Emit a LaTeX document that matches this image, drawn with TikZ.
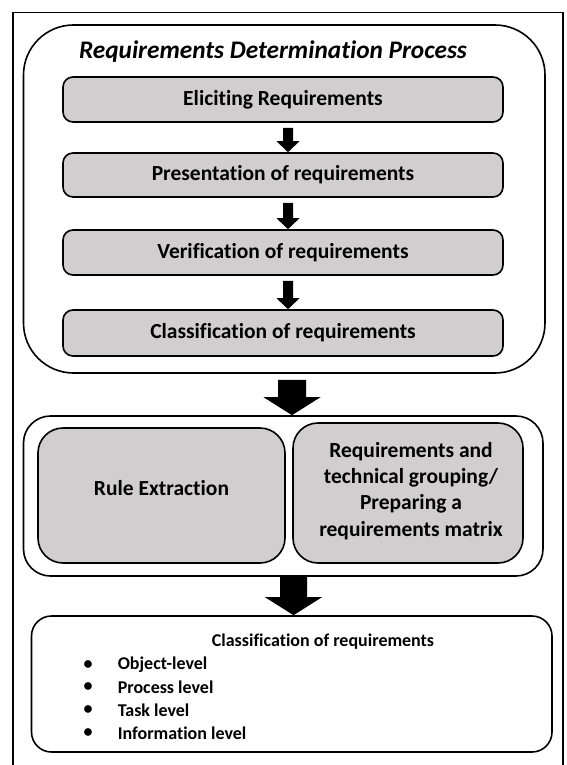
\documentclass[tikz,border=0pt]{standalone}
\usepackage{fontspec}
\setmainfont{Carlito}[Ligatures=NoCommon]
\usetikzlibrary{calc}
\definecolor{boxgray}{RGB}{208,206,206}
\newcommand\blockarrow[5]{%
  \fill ($(#1)+(-#3,0)$) -- ($(#1)+(#3,0)$) -- ($(#2)+(#3,-#5)$) -- ($(#2)+(#4,-#5)$)
    -- (#2) -- ($(#2)+(-#4,-#5)$) -- ($(#2)+(-#3,-#5)$) -- cycle;}
\begin{document}
\begin{tikzpicture}[x=1pt,y=-1pt,line width=1.6pt,
  boxfont/.style={font=\fontsize{21.5}{26}\selectfont\bfseries},
  graybox/.style={draw,fill=boxgray,rounded corners=10pt,inner sep=0pt,boxfont,align=center},
  plaintext/.style={inner sep=0pt,boxfont,align=center},
  bigbox/.style={draw,inner sep=0pt},
  titletext/.style={font=\fontsize{25.3}{30}\selectfont\bfseries\itshape},
  listtext/.style={font=\fontsize{18}{22}\selectfont\bfseries,inner sep=0pt}]
\useasboundingbox (0,0) rectangle (566,765);
% outer frame (bottom edge outside the picture)
\draw[line width=1.6pt] (12.7,770) -- (12.7,12.7) -- (563,12.7) -- (563,770);
% top process box
\node[bigbox,rounded corners=50pt,minimum width=521.5pt,minimum height=348pt] (proc) at (284.25,199) {};
\node[titletext] (title) at (273,52) {Requirements Determination Process};
\node[graybox,minimum width=440pt,minimum height=45pt] (e1) at (283,99.5) {Eliciting Requirements};
\node[graybox,minimum width=440pt,minimum height=44pt] (e2) at (283,175) {Presentation of requirements};
\node[graybox,minimum width=440pt,minimum height=45pt] (e3) at (283,252.5) {Verification of requirements};
\node[graybox,minimum width=440pt,minimum height=46pt] (e4) at (283,333) {Classification of requirements};
% middle box
\node[bigbox,rounded corners=27pt,minimum width=519.5pt,minimum height=160pt] (mid) at (283.25,496) {};
\node[graybox,rounded corners=25pt,minimum width=247pt,minimum height=135pt] (rule) at (161.5,495.5) {};
\node[plaintext] (rulet) at (161.5,488) {Rule Extraction};
\node[graybox,rounded corners=25pt,minimum width=230pt,minimum height=140pt] (grp) at (408,493) {};
\node[plaintext,font=\fontsize{21.5}{26.2}\selectfont\bfseries] (grpt) at (411,491)
  {Requirements and\\technical grouping/\\Preparing a\\requirements matrix};
% bottom box
\node[bigbox,rounded corners=20pt,minimum width=520.5pt,minimum height=136pt] (cls) at (291.75,684) {};
\node[listtext] (clst) at (323,642) {Classification of requirements};
\foreach \t/\yy [count=\i] in {Object-level/665,Process level/687.5,Task level/710,Information level/733}{
  \node[listtext] (b\i) at (88,\yy) {•};
  \node[listtext,anchor=west] (l\i) at (117,\yy) {\t};
}
% connectors
\coordinate (ax) at (288,0);
\coordinate (bx) at (292,0);
\coordinate (cx) at (293.5,0);
\blockarrow{$(e1.south -| ax)+(0,5)$}{e2.north -| ax}{5}{11.5}{11}
\blockarrow{$(e2.south -| ax)+(0,5)$}{e3.north -| ax}{5}{11.5}{11}
\blockarrow{$(e3.south -| ax)+(0,5)$}{e4.north -| ax}{5}{11.5}{11}
\blockarrow{$(proc.south -| bx)+(0,6)$}{mid.north -| bx}{14}{28.5}{18}
\blockarrow{mid.south -| cx}{cls.north -| cx}{13.5}{28.5}{18}
\end{tikzpicture}
\end{document}
